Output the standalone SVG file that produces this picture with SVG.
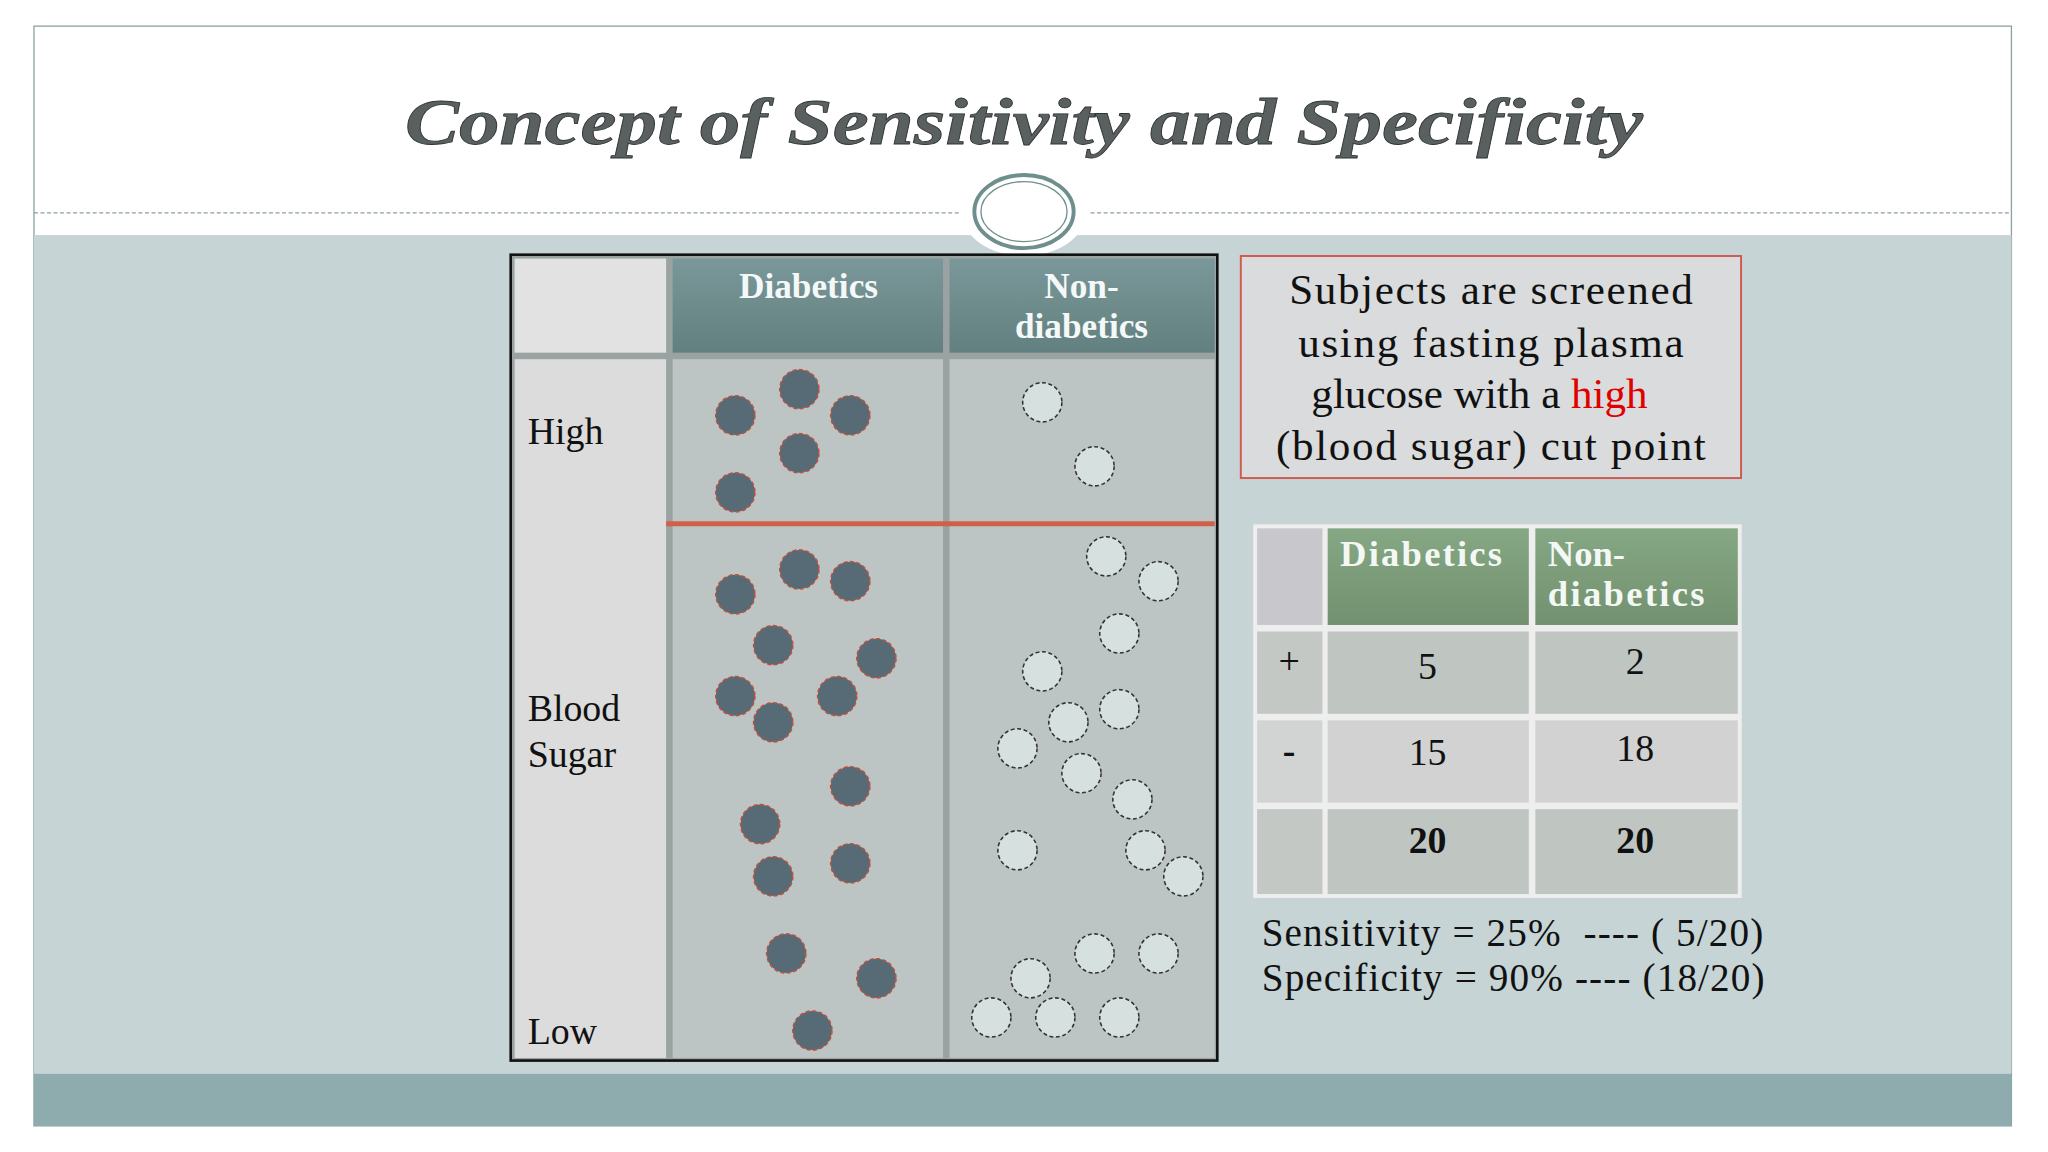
<svg xmlns="http://www.w3.org/2000/svg" width="2048" height="1152" viewBox="0 0 2048 1152">
<defs>
<style>
.s{font-family:"Liberation Serif","DejaVu Serif",serif;}
.d{fill:#566b76;stroke:#c0503c;stroke-width:1.2;stroke-dasharray:3 2}
.l{fill:#d6e0de;stroke:#333;stroke-width:1.2;stroke-dasharray:3 2}
.hd{fill:#f4f8f8;font-size:27px;font-weight:bold;text-anchor:middle}
.lb{font-size:29px;fill:#111}
.cell{stroke:#eeeeee;stroke-width:3}
.tn{font-size:29px;fill:#111;text-anchor:middle}
</style>
<linearGradient id="hg" x1="0" y1="0" x2="0" y2="1"><stop offset="0" stop-color="#7a9899"/><stop offset="1" stop-color="#62807f"/></linearGradient>
<linearGradient id="gg" x1="0" y1="0" x2="0" y2="1"><stop offset="0" stop-color="#86a884"/><stop offset="1" stop-color="#72906f"/></linearGradient>
</defs>
<g transform="scale(1.30612)">
<g id="background">
<rect x="0" y="0" width="1568" height="882" fill="#ffffff"/>
<rect x="26" y="20" width="1514" height="842" fill="#ffffff" stroke="#8aa3a2" stroke-width="1"/>
<rect x="26" y="180" width="1514" height="642" fill="#c6d4d6"/>
<rect x="26" y="822" width="1514" height="40" fill="#8eacad"/>
<line x1="26" y1="163" x2="735" y2="163" stroke="#8a9e9e" stroke-dasharray="3 2"/>
<line x1="835" y1="163" x2="1540" y2="163" stroke="#8a9e9e" stroke-dasharray="3 2"/>
<ellipse cx="784" cy="162" rx="48" ry="34" fill="#ffffff"/>
<ellipse cx="784" cy="162" rx="38" ry="28" fill="#ffffff" stroke="#6f8f8c" stroke-width="3"/>
<ellipse cx="784" cy="162" rx="33" ry="23" fill="none" stroke="#6f8f8c" stroke-width="1"/>
</g>
<g id="title"><text class="s" x="310" y="110" textLength="948" lengthAdjust="spacingAndGlyphs" font-size="50" font-style="italic" font-weight="bold" fill="#5a5f5f" stroke="#2f3535" stroke-width="0.6">Concept of Sensitivity and Specificity</text></g>
<g id="chart">
<rect x="391" y="195" width="541" height="617" fill="#9aa2a2" stroke="#111" stroke-width="2"/>
<rect x="394" y="198" width="116" height="72" fill="#e2e2e2"/>
<rect x="394" y="275" width="116" height="535" fill="#dcdcdc"/>
<rect x="515" y="198" width="207" height="72" fill="url(#hg)"/>
<rect x="727" y="198" width="203" height="72" fill="url(#hg)"/>
<rect x="515" y="275" width="207" height="535" fill="#bcc4c4"/>
<rect x="727" y="275" width="203" height="535" fill="#bcc4c4"/>
<text class="s hd" x="619" y="228" font-size="28">Diabetics</text>
<text class="s hd" x="828" y="228" font-size="28">Non-</text>
<text class="s hd" x="828" y="259" font-size="28">diabetics</text>
<text class="s lb" x="404" y="340">High</text>
<text class="s lb" x="404" y="552">Blood</text>
<text class="s lb" x="404" y="587">Sugar</text>
<text class="s lb" x="404" y="799">Low</text>
<line x1="510" y1="401" x2="930" y2="401" stroke="#d0604a" stroke-width="4"/>
</g>
<g id="diabetics">
<circle class="d" cx="563" cy="318" r="15"/><circle class="d" cx="612" cy="298" r="15"/><circle class="d" cx="651" cy="318" r="15"/><circle class="d" cx="612" cy="347" r="15"/><circle class="d" cx="563" cy="377" r="15"/><circle class="d" cx="612" cy="436" r="15"/><circle class="d" cx="563" cy="455" r="15"/><circle class="d" cx="651" cy="445" r="15"/><circle class="d" cx="592" cy="494" r="15"/><circle class="d" cx="671" cy="504" r="15"/><circle class="d" cx="563" cy="533" r="15"/><circle class="d" cx="641" cy="533" r="15"/><circle class="d" cx="592" cy="553" r="15"/><circle class="d" cx="651" cy="602" r="15"/><circle class="d" cx="582" cy="631" r="15"/><circle class="d" cx="592" cy="671" r="15"/><circle class="d" cx="651" cy="661" r="15"/><circle class="d" cx="602" cy="730" r="15"/><circle class="d" cx="671" cy="749" r="15"/><circle class="d" cx="622" cy="789" r="15"/>
</g>
<g id="nondiabetics">
<circle class="l" cx="798" cy="308" r="15"/><circle class="l" cx="838" cy="357" r="15"/><circle class="l" cx="847" cy="426" r="15"/><circle class="l" cx="887" cy="445" r="15"/><circle class="l" cx="857" cy="485" r="15"/><circle class="l" cx="798" cy="514" r="15"/><circle class="l" cx="818" cy="553" r="15"/><circle class="l" cx="857" cy="543" r="15"/><circle class="l" cx="779" cy="573" r="15"/><circle class="l" cx="828" cy="592" r="15"/><circle class="l" cx="867" cy="612" r="15"/><circle class="l" cx="779" cy="651" r="15"/><circle class="l" cx="877" cy="651" r="15"/><circle class="l" cx="906" cy="671" r="15"/><circle class="l" cx="838" cy="730" r="15"/><circle class="l" cx="887" cy="730" r="15"/><circle class="l" cx="789" cy="749" r="15"/><circle class="l" cx="759" cy="779" r="15"/><circle class="l" cx="808" cy="779" r="15"/><circle class="l" cx="857" cy="779" r="15"/>
</g>
<g id="note">
<rect x="950" y="196" width="383" height="170" fill="#d9dbdc" stroke="#d05a50" stroke-width="1.5"/>
<text class="s" font-size="33" fill="#111"><tspan x="987" y="233" textLength="309">Subjects are screened</tspan></text>
<text class="s" font-size="33" fill="#111"><tspan x="994" y="273" textLength="295">using fasting plasma</tspan></text>
<text class="s" font-size="33" fill="#111"><tspan x="1004" y="312">glucose with a <tspan fill="#e00000">high</tspan></tspan></text>
<text class="s" font-size="33" fill="#111"><tspan x="977" y="352" textLength="329">(blood sugar) cut point</tspan></text>
</g>
<g id="table">
<rect x="960" y="402" width="373" height="284" fill="#e8e8e8"/>
<rect class="cell" x="961" y="403" width="53" height="77" fill="#c8c8cc"/>
<rect class="cell" x="1015" y="403" width="157" height="77" fill="url(#gg)"/>
<rect class="cell" x="1174" y="403" width="158" height="77" fill="url(#gg)"/>
<rect class="cell" x="961" y="482" width="53" height="66" fill="#c3c8c4"/>
<rect class="cell" x="1015" y="482" width="157" height="66" fill="#bfc6c2"/>
<rect class="cell" x="1174" y="482" width="158" height="66" fill="#bfc6c2"/>
<rect class="cell" x="961" y="550" width="53" height="66" fill="#d2d4d4"/>
<rect class="cell" x="1015" y="550" width="157" height="66" fill="#d2d2d2"/>
<rect class="cell" x="1174" y="550" width="158" height="66" fill="#d2d2d2"/>
<rect class="cell" x="961" y="618" width="53" height="68" fill="#c3c8c4"/>
<rect class="cell" x="1015" y="618" width="157" height="68" fill="#bfc6c2"/>
<rect class="cell" x="1174" y="618" width="158" height="68" fill="#bfc6c2"/>
<text class="s" x="1026" y="433" font-size="28" font-weight="bold" fill="#f4f8f4" textLength="124">Diabetics</text>
<text class="s" x="1185" y="433" font-size="28" font-weight="bold" fill="#f4f8f4">Non-</text>
<text class="s" x="1185" y="464" font-size="28" font-weight="bold" fill="#f4f8f4" textLength="120">diabetics</text>
<text class="s tn" x="987" y="516">+</text>
<text class="s tn" x="987" y="584" font-weight="bold">-</text>
<text class="s tn" x="1093" y="520">5</text>
<text class="s tn" x="1252" y="516">2</text>
<text class="s tn" x="1093" y="586">15</text>
<text class="s tn" x="1252" y="583">18</text>
<text class="s tn" x="1093" y="653" font-weight="bold">20</text>
<text class="s tn" x="1252" y="653" font-weight="bold">20</text>
</g>
<g id="results">
<text class="s" x="966" y="724" font-size="30" fill="#111" textLength="384" xml:space="preserve">Sensitivity = 25%  ---- ( 5/20)</text>
<text class="s" x="966" y="759" font-size="30" fill="#111" textLength="385">Specificity = 90% ---- (18/20)</text>
</g>
</g>
</svg>
